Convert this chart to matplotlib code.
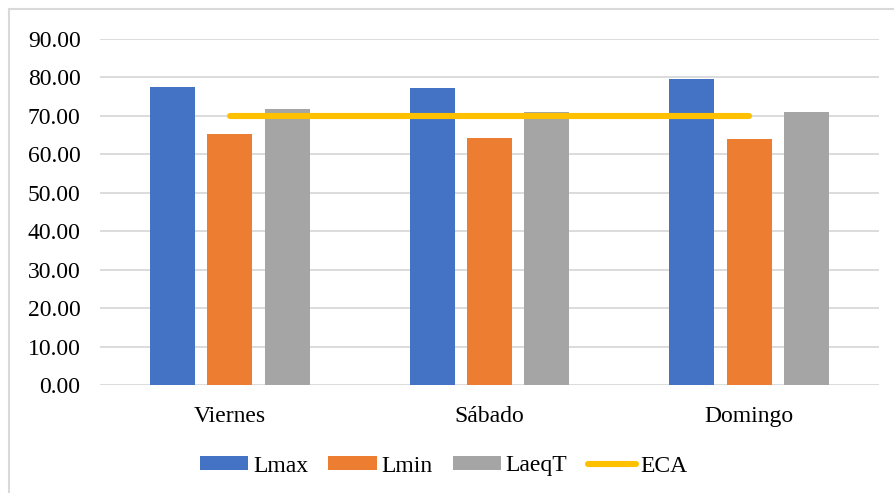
import matplotlib
matplotlib.use("Agg")
import matplotlib.pyplot as plt
import numpy as np
from matplotlib.lines import Line2D
from matplotlib.patches import Patch

days = ["Viernes", "Sábado", "Domingo"]
lmax = [77.5, 77.2, 79.5]
lmin = [65.3, 64.2, 63.9]
laeqt = [71.7, 70.9, 71.1]
eca = [70.0, 70.0, 70.0]
yticks = [0, 10, 20, 30, 40, 50, 60, 70, 80, 90]

plt.rcParams["font.family"] = ["Liberation Serif", "DejaVu Serif"]

BLUE = "#4472C4"
ORANGE = "#ED7D31"
GRAY = "#A5A5A5"
GOLD = "#FFC000"
GRID = "#D9D9D9"

fig = plt.figure(figsize=(8.95, 4.93), dpi=100)
ax = fig.add_axes([100 / 895, 1 - 385 / 493, 779 / 895, 346 / 493])

x = np.arange(len(days))
w = 0.173
step = 0.221
ax.bar(x - step, lmax, w, color=BLUE, zorder=2)
ax.bar(x, lmin, w, color=ORANGE, zorder=2)
ax.bar(x + step, laeqt, w, color=GRAY, zorder=2)
ax.plot(x, eca, color=GOLD, lw=4.4, solid_capstyle="round", zorder=3)

ax.set_xlim(-0.5, 2.5)
ax.set_ylim(0, 90)
ax.set_yticks(yticks)
ax.set_yticklabels([f"{v:.2f}" for v in yticks], fontsize=17)
ax.set_xticks(x)
ax.set_xticklabels(days, fontsize=17)
ax.yaxis.grid(True, color=GRID, lw=1.3, zorder=0)
ax.tick_params(axis="both", length=0)
ax.tick_params(axis="y", pad=14)
ax.tick_params(axis="x", pad=15)
for s in ax.spines.values():
    s.set_visible(False)

handles = [
    Patch(facecolor=BLUE, label="Lmax"),
    Patch(facecolor=ORANGE, label="Lmin"),
    Patch(facecolor=GRAY, label="LaeqT"),
    Line2D([0], [0], color=GOLD, lw=4.4, solid_capstyle="round", label="ECA"),
]
fig.legend(handles=handles, loc="center", bbox_to_anchor=(444 / 895, 1 - 466 / 493),
           ncol=4, frameon=False, fontsize=17, handlelength=2.05, handleheight=0.55,
           handletextpad=0.2, columnspacing=0.85)

# chart area border (left and top edges)
fig.add_artist(Line2D([9 / 895, 9 / 895], [0, 1 - 9 / 493], color=GRID, lw=1.5,
                      transform=fig.transFigure))
fig.add_artist(Line2D([9 / 895, 1], [1 - 9 / 493, 1 - 9 / 493], color=GRID, lw=1.5,
                      transform=fig.transFigure))

fig.savefig("out.png", dpi=100)
